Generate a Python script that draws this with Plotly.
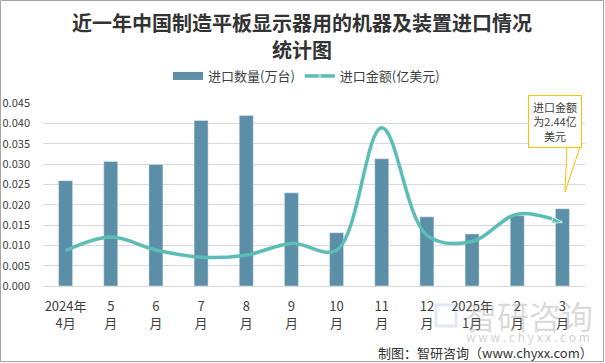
import plotly.graph_objects as go

months = ["2024年<br>4月", "5<br>月", "6<br>月", "7<br>月", "8<br>月", "9<br>月", "10<br>月",
          "11<br>月", "12<br>月", "2025年<br>1月", "2<br>月", "3<br>月"]
quantity = [0.0259, 0.0306, 0.0299, 0.0407, 0.0419, 0.0229, 0.0131, 0.0313, 0.0170, 0.0128, 0.0173, 0.0190]
amount = [1.35, 1.87, 1.38, 1.10, 1.18, 1.63, 1.37, 6.05, 1.94, 1.70, 2.75, 2.44]

FONT = "Noto Sans CJK SC"
BAR_COLOR = "#5B8FA8"
LINE_COLOR = "#5BBDB5"
W, H = 605, 363
L, R, T, B = 43, 20, 103, 77
pw, ph = W - L - R, H - T - B

def px(x):
    return (x - L) / pw

def py(y):
    return (H - B - y) / ph

fig = go.Figure()
fig.add_trace(go.Bar(x=months, y=quantity, name="进口数量(万台)", marker_color=BAR_COLOR,
                     yaxis="y", showlegend=False))
# legend entry with a wide swatch for the bars
fig.add_trace(go.Scatter(x=[None], y=[None], name="进口数量(万台)", mode="lines",
                         line=dict(color=BAR_COLOR, width=8), showlegend=True))
n = len(amount)
sizes = [10] + [0] * (n - 2) + [11]
symbols = ["circle"] + ["circle"] * (n - 2) + ["arrow"]
fig.add_trace(go.Scatter(x=months, y=amount, name="进口金额(亿美元)", yaxis="y2",
                         mode="lines+markers",
                         line=dict(color=LINE_COLOR, width=3.5, shape="spline", smoothing=1.0),
                         marker=dict(size=sizes, symbol=symbols, color=LINE_COLOR, angleref="previous")))

shapes = [
    # outer border
    dict(type="rect", xref="paper", yref="paper", x0=px(0.5), x1=px(W - 1.5), y0=py(H - 1.5), y1=py(0.5),
         line=dict(color="#A6A6A6", width=1), fillcolor="rgba(0,0,0,0)", layer="below"),
    # faint watermark logo
    dict(type="rect", xref="paper", yref="paper", x0=px(436), x1=px(456), y0=py(326), y1=py(305),
         line=dict(color="rgba(120,150,190,0.22)", width=3), fillcolor="rgba(0,0,0,0)", layer="below"),
    # callout tail
    dict(type="path", xref="paper", yref="paper",
         path=f"M {px(567)} {py(147)} L {px(565)} {py(192)} L {px(580)} {py(147)} Z",
         fillcolor="white", line=dict(color="#FFC000", width=1), layer="above"),
]

annotations = [
    dict(text="<b>近一年中国制造平板显示器用的机器及装置进口情况</b>", xref="paper", yref="paper",
         x=px(302), y=py(23), xanchor="center", yanchor="middle", showarrow=False,
         font=dict(family=FONT, size=20, color="#333333")),
    dict(text="<b>统计图</b>", xref="paper", yref="paper",
         x=px(302), y=py(50), xanchor="center", yanchor="middle", showarrow=False,
         font=dict(family=FONT, size=20, color="#333333")),
    dict(text="进口金额<br>为2.44亿<br>美元", xref="paper", yref="paper", x=px(555), y=py(121),
         xanchor="center", yanchor="middle", showarrow=False, align="center",
         font=dict(family=FONT, size=11, color="#404040"),
         bordercolor="#FFC000", borderwidth=1, bgcolor="white", borderpad=3, width=46),
    dict(text="智研咨询", xref="paper", yref="paper", x=px(595), y=py(315), xanchor="right", yanchor="middle",
         showarrow=False, font=dict(family=FONT, size=32, color="rgba(150,150,150,0.35)")),
    dict(text="w w w . c h y x x . c o m", xref="paper", yref="paper", x=px(592), y=py(336),
         xanchor="right", yanchor="middle", showarrow=False,
         font=dict(family=FONT, size=12, color="rgba(150,150,150,0.45)")),
    dict(text="制图：智研咨询（www.chyxx.com）", xref="paper", yref="paper", x=px(595), y=py(352),
         xanchor="right", yanchor="middle", showarrow=False,
         font=dict(family=FONT, size=13, color="#333333")),
]

fig.update_layout(
    width=W, height=H,
    margin=dict(l=L, r=R, t=T, b=B),
    paper_bgcolor="white", plot_bgcolor="white",
    legend=dict(orientation="h", x=px(168), xanchor="left", y=py(76), yanchor="middle",
                font=dict(family=FONT, size=13, color="#404040"), itemwidth=30,
                traceorder="normal"),
    bargap=0.69,
    showlegend=True,
    xaxis=dict(tickfont=dict(family=FONT, size=13, color="#404040"), showline=True,
               linecolor="#D9D9D9", ticks="", tickangle=0, ticklabelstandoff=8,
               range=[-0.5, len(months) - 0.5], automargin=False),
    yaxis=dict(range=[0, 0.045], dtick=0.005, tickformat=".3f", showgrid=True, gridcolor="#D9D9D9",
               gridwidth=1, zeroline=False, tickfont=dict(family=FONT, size=11, color="#404040"),
               ticks="", ticklabelstandoff=12, automargin=False),
    yaxis2=dict(range=[0, 7], overlaying="y", side="right", visible=False),
    shapes=shapes,
    annotations=annotations,
)

fig.write_html("out.html", config={"displayModeBar": False},
               post_script="document.body.style.margin='0';document.body.style.overflow='hidden';")
